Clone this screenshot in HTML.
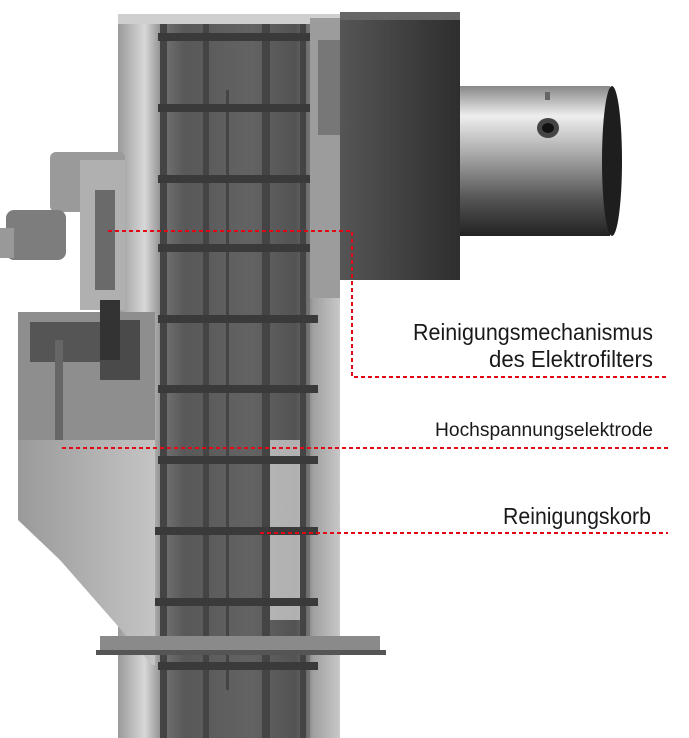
<!DOCTYPE html>
<html><head><meta charset="utf-8"><style>html,body{margin:0;padding:0;background:#fff}svg{display:block}</style></head>
<body>
<svg width="689" height="738" viewBox="0 0 689 738" xmlns="http://www.w3.org/2000/svg">
<defs>
<linearGradient id="tube" x1="0" x2="1" y1="0" y2="0">
<stop offset="0" stop-color="#9a9a9a"/><stop offset="0.12" stop-color="#d8d8d8"/><stop offset="0.2" stop-color="#8a8a8a"/>
<stop offset="0.3" stop-color="#555"/><stop offset="0.6" stop-color="#6a6a6a"/><stop offset="0.8" stop-color="#4a4a4a"/>
<stop offset="0.88" stop-color="#a0a0a0"/><stop offset="1" stop-color="#c8c8c8"/></linearGradient>
<linearGradient id="pipe" x1="0" x2="0" y1="0" y2="1">
<stop offset="0" stop-color="#888"/><stop offset="0.2" stop-color="#eee"/><stop offset="0.45" stop-color="#aaa"/>
<stop offset="0.75" stop-color="#555"/><stop offset="1" stop-color="#222"/></linearGradient>
<linearGradient id="box" x1="0" x2="1"><stop offset="0" stop-color="#555"/><stop offset="1" stop-color="#2e2e2e"/></linearGradient>
<linearGradient id="hop" x1="0" x2="1"><stop offset="0" stop-color="#9a9a9a"/><stop offset="1" stop-color="#c4c4c4"/></linearGradient>
</defs>
<!-- main tube -->
<rect x="118" y="18" width="222" height="720" fill="url(#tube)"/>
<rect x="118" y="14" width="222" height="10" fill="#cfcfcf"/>
<rect x="160" y="24" width="150" height="714" fill="#5c5c5c" opacity="0.5"/>
<rect x="265" y="440" width="35" height="180" fill="#d8d8d8" opacity="0.7"/>
<!-- vertical bars -->
<g fill="#444"><rect x="160" y="24" width="7" height="714"/><rect x="203" y="24" width="6" height="714"/><rect x="262" y="24" width="8" height="714"/><rect x="300" y="24" width="6" height="714"/><rect x="226" y="90" width="3" height="600"/></g>
<!-- rungs -->
<g fill="#3a3a3a">
<rect x="158" y="33" width="160" height="8"/><rect x="158" y="104" width="160" height="8"/><rect x="158" y="175" width="160" height="8"/>
<rect x="158" y="244" width="160" height="8"/><rect x="158" y="315" width="160" height="8"/><rect x="158" y="385" width="160" height="8"/>
<rect x="158" y="456" width="160" height="8"/><rect x="138" y="527" width="180" height="8"/><rect x="138" y="598" width="180" height="8"/>
<rect x="158" y="662" width="160" height="8"/></g>
<!-- right plate -->
<rect x="310" y="18" width="30" height="280" fill="#9c9c9c"/>
<rect x="318" y="40" width="22" height="95" fill="#777"/>
<!-- dark box -->
<rect x="340" y="12" width="120" height="268" fill="url(#box)"/>
<rect x="340" y="12" width="120" height="8" fill="#666"/>
<!-- pipe -->
<rect x="460" y="86" width="150" height="150" fill="url(#pipe)"/>
<ellipse cx="612" cy="161" rx="10" ry="75" fill="#1e1e1e"/>
<ellipse cx="548" cy="128" rx="11" ry="10" fill="#444"/><ellipse cx="548" cy="128" rx="6" ry="5" fill="#111"/>
<rect x="545" y="92" width="5" height="8" fill="#666"/>
<!-- hopper -->
<path d="M18 312 H155 V665 H152 L60 560 L18 520 Z" fill="url(#hop)"/>
<path d="M18 312 H155 V440 H18 Z" fill="#8e8e8e"/>
<rect x="30" y="322" width="110" height="40" fill="#555"/>
<rect x="100" y="320" width="40" height="60" fill="#4a4a4a"/>
<rect x="55" y="340" width="8" height="100" fill="#666"/>
<!-- flange -->
<rect x="100" y="636" width="280" height="16" fill="#8a8a8a"/>
<rect x="96" y="650" width="290" height="5" fill="#555"/>
<!-- mechanism -->
<rect x="50" y="152" width="75" height="60" rx="6" fill="#9a9a9a"/>
<rect x="80" y="160" width="45" height="150" fill="#b0b0b0"/>
<rect x="95" y="190" width="20" height="100" fill="#6a6a6a"/>
<rect x="6" y="210" width="60" height="50" rx="8" fill="#7d7d7d"/>
<rect x="0" y="228" width="14" height="30" fill="#999"/>
<rect x="100" y="300" width="20" height="60" fill="#333"/>
<!-- annotation lines -->
<g stroke="#e30613" stroke-width="2" stroke-dasharray="4 3" fill="none">
<polyline points="108,231 352,231 352,377 668,377"/>
<line x1="62" y1="448" x2="668" y2="448"/>
<line x1="260" y1="533" x2="668" y2="533"/>
</g>
<g font-family="'Liberation Sans Narrow','Liberation Sans',sans-serif" fill="#1a1a1a" text-anchor="end">
<text x="653" y="340" font-size="23" textLength="240" lengthAdjust="spacingAndGlyphs">Reinigungsmechanismus</text>
<text x="653" y="367" font-size="23" textLength="164" lengthAdjust="spacingAndGlyphs">des Elektrofilters</text>
<text x="653" y="436" font-size="19" textLength="218" lengthAdjust="spacingAndGlyphs">Hochspannungselektrode</text>
<text x="651" y="524" font-size="23" textLength="148" lengthAdjust="spacingAndGlyphs">Reinigungskorb</text>
</g>
</svg>
</body></html>
